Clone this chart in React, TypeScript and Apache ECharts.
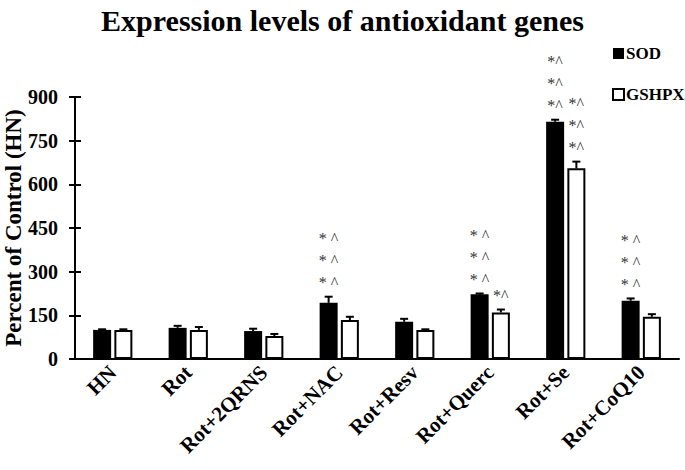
import React, { useEffect, useRef } from "react";
import * as echarts from "echarts";

const categories = ["HN", "Rot", "Rot+2QRNS", "Rot+NAC", "Rot+Resv", "Rot+Querc", "Rot+Se", "Rot+CoQ10"];
const sodMean = [100, 107, 96, 193, 128, 222, 815, 200];
const sodErr = [2, 7, 8, 21, 10, 3, 7, 8];
const gshpxMean = [100, 100, 79, 134, 100, 160, 655, 145];
const gshpxErr = [2, 10, 7, 11, 2, 10, 23, 9];
const sodMarkText = ["", "", "", "* ^", "", "* ^", "*^", "* ^"];
const sodMarkCount = [0, 0, 0, 3, 0, 3, 3, 3];
const gshpxMarkText = ["", "", "", "", "", "*^", "*^", ""];
const gshpxMarkCount = [0, 0, 0, 0, 0, 1, 3, 0];
const yTicks = { min: 0, max: 900, interval: 150 };

const FONT = "'Liberation Serif', 'Times New Roman', serif";
const BAR_W = 18;
const GAP_PCT = 18;
const SHIFT = (BAR_W + (BAR_W * GAP_PCT) / 100) / 2;

export default function App() {
  const ref = useRef<HTMLDivElement>(null);
  useEffect(() => {
    if (!ref.current) return;
    const chart = echarts.init(ref.current, null, { renderer: "svg" });

    const errData: any[] = [];
    categories.forEach((_, i) => {
      errData.push([i, sodMean[i], sodErr[i], -1, sodMarkText[i], sodMarkCount[i]]);
      errData.push([i, gshpxMean[i], gshpxErr[i], 1, gshpxMarkText[i], gshpxMarkCount[i]]);
    });

    const renderItem = (params: any, api: any) => {
      const i = api.value(0);
      const mean = api.value(1);
      const err = api.value(2);
      const side = api.value(3);
      const text = errData[params.dataIndex][4];
      const count = errData[params.dataIndex][5];
      const base = api.coord([i, mean]);
      const top = api.coord([i, mean + err]);
      const x = base[0] + side * SHIFT;
      const children: any[] = [
        { type: "line", shape: { x1: x, y1: base[1], x2: x, y2: top[1] }, style: { stroke: "#000", lineWidth: 2 } },
        { type: "line", shape: { x1: x - 4, y1: top[1], x2: x + 4, y2: top[1] }, style: { stroke: "#000", lineWidth: 2 } },
      ];
      for (let k = 0; k < count; k++) {
        children.push({
          type: "text",
          style: {
            x: x,
            y: top[1] - 14 - 22 * k,
            text: text,
            fill: "#333",
            font: `16px ${FONT}`,
            align: "center",
            verticalAlign: "middle",
          },
        });
      }
      return { type: "group", children };
    };

    chart.setOption({
      animation: false,
      title: {
        text: "Expression levels of antioxidant genes",
        left: "center",
        top: 0,
        textStyle: { fontFamily: FONT, fontWeight: "bold", fontSize: 30, color: "#000" },
      },
      legend: {
        orient: "vertical",
        left: 612,
        top: 45,
        padding: 0,
        itemWidth: 11,
        itemHeight: 11,
        itemGap: 24,
        textStyle: { fontFamily: FONT, fontWeight: "bold", fontSize: 17, color: "#000", padding: [0, 0, 0, -3] },
        data: [
          { name: "SOD", icon: "rect", itemStyle: { color: "#000", borderWidth: 0 } },
          { name: "GSHPX", icon: "rect", itemStyle: { color: "#fff", borderColor: "#000", borderWidth: 2 } },
        ],
      },
      grid: { left: 75, right: 6, top: 97, bottom: 111, containLabel: false, outerBoundsMode: "none" },
      xAxis: {
        type: "category",
        data: categories,
        axisLine: { lineStyle: { color: "#000", width: 2 } },
        axisTick: { show: false },
        axisLabel: {
          rotate: 45,
          margin: 10,
          interval: 0,
          fontFamily: FONT,
          fontWeight: "bold",
          fontSize: 21,
          color: "#000",
        },
      },
      yAxis: [
        {
          type: "value",
          position: "left",
          min: yTicks.min,
          max: yTicks.max,
          interval: yTicks.interval,
          name: "Percent of Control (HN)",
          nameLocation: "middle",
          nameGap: 50,
          nameMoveOverlap: false,
          nameTextStyle: { fontFamily: FONT, fontWeight: "bold", fontSize: 23, color: "#000" },
          axisLine: { show: true, lineStyle: { color: "#000", width: 2 } },
          axisTick: { show: true, length: 6, lineStyle: { color: "#000", width: 2 } },
          axisLabel: { margin: 17, fontFamily: FONT, fontWeight: "bold", fontSize: 20, color: "#000" },
          splitLine: { show: false },
        },
        {
          type: "value",
          position: "left",
          min: yTicks.min,
          max: yTicks.max,
          interval: yTicks.interval,
          axisLine: { show: false },
          axisTick: { show: true, inside: true, length: 6, lineStyle: { color: "#000", width: 2 } },
          axisLabel: { show: false },
          splitLine: { show: false },
        },
      ],
      series: [
        {
          name: "SOD",
          type: "bar",
          yAxisIndex: 0,
          data: sodMean,
          barWidth: BAR_W,
          barGap: `${GAP_PCT}%`,
          itemStyle: { color: "#000" },
        },
        {
          name: "GSHPX",
          type: "bar",
          yAxisIndex: 0,
          data: gshpxMean,
          barWidth: BAR_W,
          barGap: `${GAP_PCT}%`,
          itemStyle: { color: "#fff", borderColor: "#000", borderWidth: 2 },
        },
        {
          type: "custom",
          yAxisIndex: 0,
          renderItem,
          data: errData.map((d) => d.slice(0, 4)),
          z: 5,
          silent: true,
        },
      ],
    });
    return () => chart.dispose();
  }, []);
  return <div ref={ref} style={{ width: 685, height: 470, position: "absolute", left: 0, top: 0 }} />;
}
